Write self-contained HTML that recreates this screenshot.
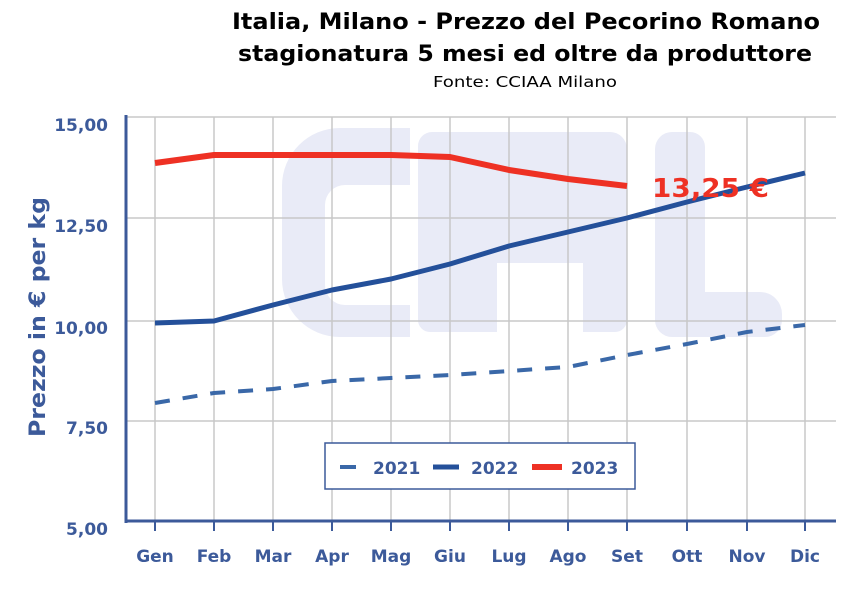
<!DOCTYPE html><html><head><style>body{margin:0;background:#fff}svg text{font-family:"DejaVu Sans",Verdana,sans-serif;font-weight:bold}</style></head><body>
<svg width="852" height="596" xmlns="http://www.w3.org/2000/svg">
<text x="232" y="29" font-size="22" textLength="588" lengthAdjust="spacingAndGlyphs" fill="#000">Italia, Milano - Prezzo del Pecorino Romano</text>
<text x="238" y="61" font-size="22" textLength="574" lengthAdjust="spacingAndGlyphs" fill="#000">stagionatura 5 mesi ed oltre da produttore</text>
<text x="433" y="87" font-size="15" textLength="184" lengthAdjust="spacingAndGlyphs" fill="#000" style="font-weight:normal">Fonte: CCIAA Milano</text>
<g fill="#e9ebf7" fill-rule="evenodd">
<path d="M410 128 H340 A58 58 0 0 0 282 186 V279 A58 58 0 0 0 340 337 H410 V305 H345 A20 20 0 0 1 325 285 V205 A20 20 0 0 1 345 185 H410 Z"/>
<path d="M432 132 H610 A17 17 0 0 1 627 149 V320 A12 12 0 0 1 615 332 H583 V263 H497 V283 H470 V132 Z M470 132 H432 A14 14 0 0 0 418 146 V320 A12 12 0 0 0 430 332 H497 V283 H470 Z"/>
<path d="M672 132 H690 A15 15 0 0 1 705 147 V292 H760 A22 22 0 0 1 782 314 V320 A17 17 0 0 1 765 337 H672 A17 17 0 0 1 655 320 V149 A17 17 0 0 1 672 132 Z"/>
</g>
<g stroke="#c8c8c8" stroke-width="1.5">
<line x1="126" y1="117" x2="836" y2="117"/><line x1="126" y1="218" x2="836" y2="218"/><line x1="126" y1="321" x2="836" y2="321"/><line x1="126" y1="421" x2="836" y2="421"/>
<line x1="155" y1="117" x2="155" y2="521"/><line x1="214" y1="117" x2="214" y2="521"/><line x1="273" y1="117" x2="273" y2="521"/><line x1="332" y1="117" x2="332" y2="521"/><line x1="391" y1="117" x2="391" y2="521"/><line x1="450" y1="117" x2="450" y2="521"/><line x1="509" y1="117" x2="509" y2="521"/><line x1="568" y1="117" x2="568" y2="521"/><line x1="627" y1="117" x2="627" y2="521"/><line x1="687" y1="117" x2="687" y2="521"/><line x1="747" y1="117" x2="747" y2="521"/><line x1="805" y1="117" x2="805" y2="521"/>
</g>
<g stroke="#3c5a9a" stroke-width="3">
<line x1="126" y1="115" x2="126" y2="523"/><line x1="125" y1="521" x2="836" y2="521"/>
</g>
<g stroke="#3c5a9a" stroke-width="2">
<line x1="155" y1="521" x2="155" y2="531"/><line x1="214" y1="521" x2="214" y2="531"/><line x1="273" y1="521" x2="273" y2="531"/><line x1="332" y1="521" x2="332" y2="531"/><line x1="391" y1="521" x2="391" y2="531"/><line x1="450" y1="521" x2="450" y2="531"/><line x1="509" y1="521" x2="509" y2="531"/><line x1="568" y1="521" x2="568" y2="531"/><line x1="627" y1="521" x2="627" y2="531"/><line x1="687" y1="521" x2="687" y2="531"/><line x1="747" y1="521" x2="747" y2="531"/><line x1="805" y1="521" x2="805" y2="531"/>
</g>
<g fill="#3c5a9a" font-size="17" text-anchor="end">
<text x="108" y="131">15,00</text><text x="108" y="232">12,50</text><text x="108" y="334">10,00</text><text x="108" y="434">7,50</text><text x="108" y="535">5,00</text>
</g>
<g fill="#3c5a9a" font-size="17" text-anchor="middle">
<text x="155" y="562">Gen</text><text x="214" y="562">Feb</text><text x="273" y="562">Mar</text><text x="332" y="562">Apr</text><text x="391" y="562">Mag</text><text x="450" y="562">Giu</text><text x="509" y="562">Lug</text><text x="568" y="562">Ago</text><text x="627" y="562">Set</text><text x="687" y="562">Ott</text><text x="747" y="562">Nov</text><text x="805" y="562">Dic</text>
</g>
<text transform="translate(45,437) rotate(-90)" fill="#3c5a9a" font-size="22" textLength="240" lengthAdjust="spacingAndGlyphs">Prezzo in € per kg</text>
<g fill="none" stroke-linejoin="round">
<polyline stroke="#3a68a8" stroke-width="4" stroke-dasharray="15,13" points="155,403 214,393 273,389 332,381 391,378 450,375 509,371 568,367 627,355 687,344 747,332 805,325"/>
<polyline stroke="#24509a" stroke-width="5" points="155,323 214,321 273,305 332,290 391,279 450,264 509,246 568,232 627,218 687,202 747,187 805,173"/>
<polyline stroke="#ee3124" stroke-width="6" points="155,163 214,155 273,155 332,155 391,155 450,157 509,170 568,179 627,186"/>
</g>
<text x="652" y="197" fill="#ee3124" font-size="26" textLength="117" lengthAdjust="spacingAndGlyphs">13,25 €</text>
<rect x="325" y="443" width="310" height="46" fill="#fff" stroke="#3c5a9a" stroke-width="1.5"/>
<line x1="340" y1="467" x2="356" y2="467" stroke="#3a68a8" stroke-width="4"/>
<text x="373" y="474" fill="#3c5a9a" font-size="17">2021</text>
<line x1="433" y1="467" x2="459" y2="467" stroke="#24509a" stroke-width="5"/>
<text x="471" y="474" fill="#3c5a9a" font-size="17">2022</text>
<line x1="532" y1="467" x2="562" y2="467" stroke="#ee3124" stroke-width="6"/>
<text x="571" y="474" fill="#3c5a9a" font-size="17">2023</text>
</svg></body></html>
